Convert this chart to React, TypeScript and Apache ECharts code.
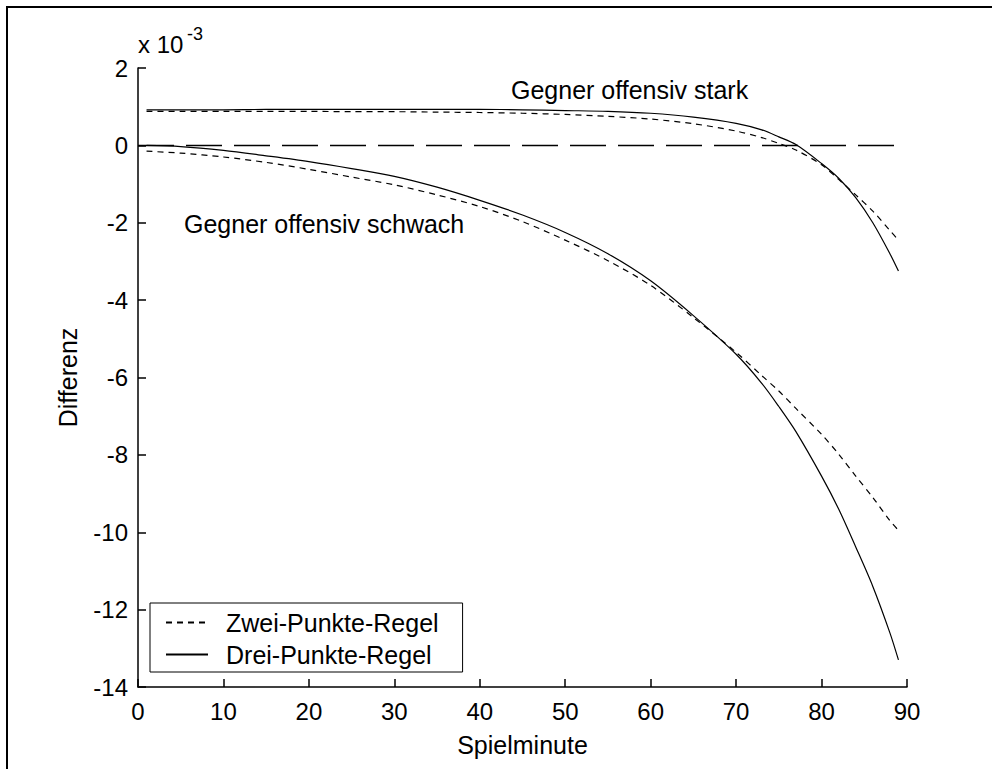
import React, { useEffect, useRef } from "react";
import * as echarts from "echarts";

const MINUTES = [1, 5, 10, 15, 20, 25, 30, 35, 40, 45, 50, 55, 60, 65, 70, 73, 75, 77, 80, 82, 84, 86, 88, 89];

// values in units of 1e-3
const ZWEI_STARK = [0.88, 0.88, 0.88, 0.88, 0.88, 0.87, 0.87, 0.86, 0.85, 0.83, 0.8, 0.75, 0.68, 0.56, 0.37, 0.2, 0.05, -0.12, -0.5, -0.88, -1.28, -1.7, -2.2, -2.45];
const DREI_STARK = [0.92, 0.92, 0.92, 0.93, 0.93, 0.93, 0.93, 0.93, 0.93, 0.92, 0.9, 0.88, 0.83, 0.73, 0.57, 0.4, 0.22, 0.02, -0.47, -0.85, -1.35, -2.0, -2.8, -3.25];
const ZWEI_SCHWACH = [-0.15, -0.2, -0.3, -0.44, -0.62, -0.82, -1.02, -1.28, -1.58, -1.97, -2.45, -2.98, -3.62, -4.45, -5.35, -5.95, -6.35, -6.8, -7.47, -7.98, -8.55, -9.1, -9.7, -9.95];
const DREI_SCHWACH = [0.0, -0.03, -0.13, -0.27, -0.42, -0.6, -0.8, -1.08, -1.42, -1.8, -2.25, -2.8, -3.5, -4.4, -5.4, -6.15, -6.75, -7.4, -8.55, -9.4, -10.38, -11.4, -12.6, -13.3];

const ZERO_X = [0, 89.5];
const ZERO_Y = [0, 0];

const LABEL_ZWEI = "Zwei-Punkte-Regel";
const LABEL_DREI = "Drei-Punkte-Regel";
const NOTE_STARK = "Gegner offensiv stark";
const NOTE_SCHWACH = "Gegner offensiv schwach";

const FONT = 'Arial, "Liberation Sans", sans-serif';

function pairs(xs: number[], ys: number[]) {
  return xs.map((x, i) => [x, ys[i]]);
}

export default function App() {
  const ref = useRef<HTMLDivElement>(null);
  useEffect(() => {
    const chart = echarts.init(ref.current!, null, { renderer: "svg" });
    const dashed = { color: "#000", width: 1.2, type: [6, 5] as any };
    const solid = { color: "#000", width: 1.2, type: "solid" as any };
    const lineCommon = {
      type: "line" as const,
      symbol: "none",
      smooth: 0.3,
      silent: true,
    };
    chart.setOption({
      animation: false,
      backgroundColor: "#fff",
      textStyle: { fontFamily: FONT, color: "#000" },
      grid: { left: 138, top: 68, width: 769, height: 619, containLabel: false },
      xAxis: {
        type: "value",
        min: 0,
        max: 90,
        interval: 10,
        name: "Spielminute",
        nameLocation: "middle",
        nameGap: 45,
        nameTextStyle: { fontSize: 25, color: "#000", fontFamily: FONT },
        axisLine: { show: true, onZero: false, lineStyle: { color: "#000", width: 1.5 } },
        axisTick: { show: true, inside: true, length: 8, lineStyle: { color: "#000", width: 1.5 } },
        axisLabel: { fontSize: 24, color: "#000", margin: 12, fontFamily: FONT },
        splitLine: { show: false },
      },
      yAxis: {
        type: "value",
        min: -14,
        max: 2,
        interval: 2,
        name: "Differenz",
        nameLocation: "middle",
        nameGap: 58,
        nameTextStyle: { fontSize: 25, color: "#000", fontFamily: FONT },
        axisLine: { show: true, onZero: false, lineStyle: { color: "#000", width: 1.5 } },
        axisTick: { show: true, inside: true, length: 8, lineStyle: { color: "#000", width: 1.5 } },
        axisLabel: { fontSize: 24, color: "#000", margin: 10, fontFamily: FONT },
        splitLine: { show: false },
      },
      legend: {
        data: [LABEL_ZWEI, LABEL_DREI],
        orient: "vertical",
        left: 150,
        top: 603,
        padding: [7, 24, 5, 15],
        itemWidth: 42,
        itemHeight: 14,
        itemGap: 7,
        borderColor: "#000",
        borderWidth: 1,
        backgroundColor: "#fff",
        selectedMode: false,
        itemStyle: { opacity: 0 },
        textStyle: { fontSize: 25, color: "#000", fontFamily: FONT, padding: [0, 0, 0, 13] },
      },
      series: [
        {
          ...lineCommon,
          name: "Null",
          smooth: false,
          data: pairs(ZERO_X, ZERO_Y),
          lineStyle: { color: "#000", width: 1.5, type: [36, 12] as any, dashOffset: 0 },
        },
        { ...lineCommon, name: LABEL_ZWEI, data: pairs(MINUTES, ZWEI_STARK), lineStyle: dashed, itemStyle: { color: "#000" } },
        { ...lineCommon, name: LABEL_ZWEI, data: pairs(MINUTES, ZWEI_SCHWACH), lineStyle: dashed, itemStyle: { color: "#000" } },
        { ...lineCommon, name: LABEL_DREI, data: pairs(MINUTES, DREI_STARK), lineStyle: solid, itemStyle: { color: "#000" } },
        { ...lineCommon, name: LABEL_DREI, data: pairs(MINUTES, DREI_SCHWACH), lineStyle: solid, itemStyle: { color: "#000" } },
      ],
      graphic: [
        { type: "line", shape: { x1: 7, y1: 6, x2: 7, y2: 769 }, style: { stroke: "#000", lineWidth: 2 } },
        { type: "line", shape: { x1: 6, y1: 7, x2: 992, y2: 7 }, style: { stroke: "#000", lineWidth: 2 } },
        { type: "text", x: 138, y: 44, style: { text: "x 10", fontSize: 24, fontFamily: FONT, fill: "#000", textVerticalAlign: "middle" } },
        { type: "text", x: 187, y: 34, style: { text: "-3", fontSize: 18, fontFamily: FONT, fill: "#000", textVerticalAlign: "middle" } },
        { type: "text", x: 511, y: 90, style: { text: NOTE_STARK, fontSize: 25, fontFamily: FONT, fill: "#000", textVerticalAlign: "middle" } },
        { type: "text", x: 184, y: 224, style: { text: NOTE_SCHWACH, fontSize: 25, fontFamily: FONT, fill: "#000", textVerticalAlign: "middle" } },
      ],
    });
    return () => chart.dispose();
  }, []);
  return (
    <div
      ref={ref}
      style={{ position: "absolute", left: 0, top: 0, width: 992, height: 769, background: "#fff" }}
    />
  );
}
